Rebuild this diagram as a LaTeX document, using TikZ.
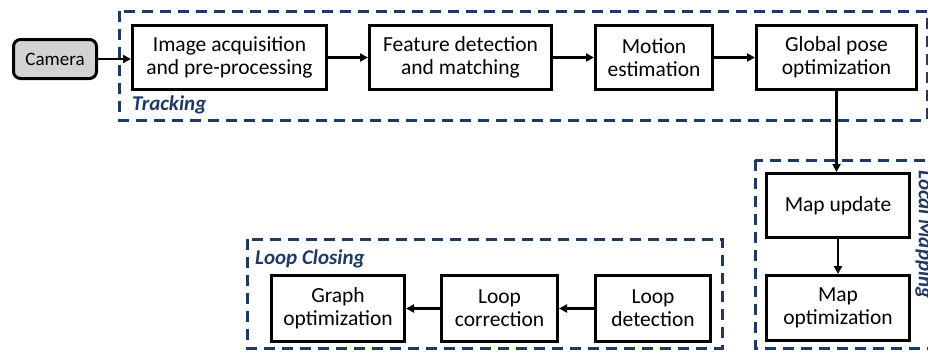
\documentclass[tikz,border=0pt]{standalone}
\usepackage{fontspec}
\setmainfont{Carlito}
\usetikzlibrary{positioning}
\usetikzlibrary{arrows.meta}

\definecolor{navy}{HTML}{1F3864}

\tikzset{
  stage/.style={draw, line width=3pt, align=center, inner sep=0pt, minimum height=64pt, font=\fontsize{21.5}{23}\selectfont},
  group/.style={draw=navy, line width=3pt, dash pattern=on 11pt off 7pt},
  grouplabel/.style={text=navy, inner sep=0pt, font=\fontsize{21}{24}\selectfont\bfseries\itshape},
  flow/.style={line width=2.2pt, -{Triangle[length=8pt,width=8pt]}}
}

\begin{document}
\begin{tikzpicture}[x=1pt,y=-1pt]
	\useasboundingbox (0,0) rectangle (928,351);

	% dashed frames of the three threads
	\draw[group] (119,11) rectangle (927,120);
	\draw[group] (755,160) rectangle (940,348);
	\draw[group] (247,239) rectangle (722,348);

	% tracking
	\node[stage, fill=gray!35, rounded corners=7pt, minimum width=83pt, minimum height=39pt, font=\fontsize{19}{22}\selectfont] (cam) at (55,59) {Camera};
	\node[stage, minimum width=194pt] (img) at (229.5,57.5) {Image acquisition\\and pre-processing};
	\node[stage, minimum width=182pt] (feat) at (460.5,57.5) {Feature detection\\and matching};
	\node[stage, minimum width=117pt] (mot) at (654,57.5) {Motion\\estimation};
	\node[stage, minimum width=160pt] (gpo) at (836.5,57.5) {Global pose\\optimization};

	% local mapping
	\node[stage, minimum width=143pt] (mu) at (838,205.5) {Map update};
	\node[stage, minimum width=143pt, minimum height=65pt] (mo) at (838,308) {Map\\optimization};

	% loop closing
	\node[stage, minimum width=133pt, minimum height=66pt] (go) at (338,308.5) {Graph\\optimization};
	\node[stage, minimum width=116pt, minimum height=66pt] (lc) at (499.5,308.5) {Loop\\correction};
	\node[stage, minimum width=115pt, minimum height=66pt] (ld) at (653,308.5) {Loop\\detection};

	% frame labels
	\node[grouplabel, anchor=base west] (trk) at (132,110) {Tracking};
	\node[grouplabel, anchor=base west] (lcl) at (255,264) {Loop Closing};
	\node[grouplabel, anchor=south west, rotate=-90] (lmp) at (915,170) {Local Mapping};

	\draw[flow] (cam) -- (cam -| img.west);
	\draw[flow] (img) -- (feat);
	\draw[flow] (feat) -- (mot);
	\draw[flow] (mot) -- (gpo);
	\draw[flow] (gpo.south) -- (gpo.south |- mu.north);
	\draw[flow] (mu) -- (mo);
	\draw[flow] (ld) -- (lc);
	\draw[flow] (lc) -- (go);
\end{tikzpicture}
\end{document}
